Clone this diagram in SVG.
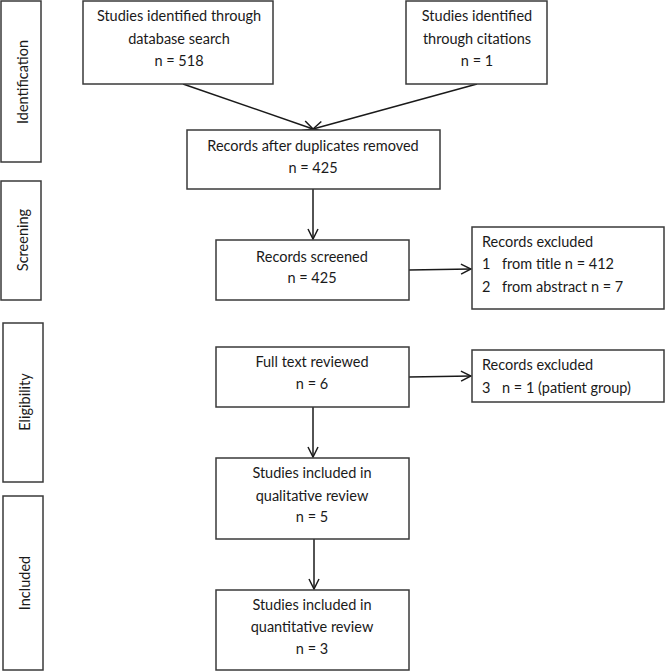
<svg xmlns="http://www.w3.org/2000/svg" width="666" height="672" viewBox="0 0 666 672">
<defs>
<style>
.box{fill:#fff;stroke:#3a3a3a;stroke-width:1.5}
.t{font-family:Lato,"Liberation Sans",sans-serif;font-size:14.5px;fill:#1a1a1a}
.c{text-anchor:middle}
.ln{stroke:#1a1a1a;stroke-width:1.5;fill:none}
</style>
<marker id="ah" viewBox="0 0 12 12" refX="11" refY="6" markerWidth="12" markerHeight="12" markerUnits="userSpaceOnUse" orient="auto">
<path d="M1,1 L11,6 L1,11" fill="none" stroke="#1a1a1a" stroke-width="1.5"/>
</marker>
</defs>
<rect width="666" height="672" fill="#fff"/>
<g id="phase-identification"><rect class="box" x="1" y="1" width="40" height="161"/><text class="t c" transform="translate(28,82) rotate(-90)">Identification</text></g>
<g id="phase-screening"><rect class="box" x="1" y="181" width="40" height="119"/><text class="t c" transform="translate(28,240) rotate(-90)">Screening</text></g>
<g id="phase-eligibility"><rect class="box" x="3" y="323" width="40" height="159"/><text class="t c" transform="translate(30,402) rotate(-90)">Eligibility</text></g>
<g id="phase-included"><rect class="box" x="3" y="496" width="40" height="174"/><text class="t c" transform="translate(30,583) rotate(-90)">Included</text></g>

<g id="connectors">
<line class="ln" x1="183" y1="84" x2="313" y2="129" marker-end="url(#ah)"/>
<line class="ln" x1="477" y1="84" x2="313" y2="129" marker-end="url(#ah)"/>
<line class="ln" x1="313" y1="189" x2="313" y2="239" marker-end="url(#ah)"/>
<line class="ln" x1="409" y1="270" x2="471" y2="269" marker-end="url(#ah)"/>
<line class="ln" x1="313" y1="407" x2="313" y2="457" marker-end="url(#ah)"/>
<line class="ln" x1="409" y1="377" x2="471" y2="376" marker-end="url(#ah)"/>
<line class="ln" x1="314" y1="539" x2="314" y2="589" marker-end="url(#ah)"/>
</g>

<g id="node-database"><rect class="box" x="83" y="1" width="190" height="83"/>
<text class="t c" x="179" y="21">Studies identified through</text>
<text class="t c" x="179" y="44">database search</text>
<text class="t c" x="179" y="66">n = 518</text></g>
<g id="node-citations"><rect class="box" x="406" y="1" width="141" height="83"/>
<text class="t c" x="477" y="21">Studies identified</text>
<text class="t c" x="477" y="44">through citations</text>
<text class="t c" x="477" y="66">n = 1</text></g>
<g id="node-duplicates"><rect class="box" x="187" y="130" width="253" height="59"/>
<text class="t c" x="313" y="151">Records after duplicates removed</text>
<text class="t c" x="313" y="173">n = 425</text></g>
<g id="node-screened"><rect class="box" x="216" y="240" width="193" height="60"/>
<text class="t c" x="312" y="262">Records screened</text>
<text class="t c" x="312" y="283">n = 425</text></g>
<g id="node-excluded1"><rect class="box" x="472" y="227" width="192" height="82"/>
<text class="t" x="482" y="247">Records excluded</text>
<text class="t" x="482" y="269">1</text><text class="t" x="502" y="269">from title n = 412</text>
<text class="t" x="482" y="292">2</text><text class="t" x="502" y="292">from abstract n = 7</text></g>
<g id="node-fulltext"><rect class="box" x="216" y="347" width="193" height="60"/>
<text class="t c" x="312" y="367">Full text reviewed</text>
<text class="t c" x="312" y="389">n = 6</text></g>
<g id="node-excluded2"><rect class="box" x="472" y="350" width="192" height="52"/>
<text class="t" x="482" y="370">Records excluded</text>
<text class="t" x="482" y="393">3</text><text class="t" x="502" y="393">n = 1 (patient group)</text></g>
<g id="node-qualitative"><rect class="box" x="216" y="458" width="193" height="81"/>
<text class="t c" x="312" y="478">Studies included in</text>
<text class="t c" x="312" y="501">qualitative review</text>
<text class="t c" x="312" y="522">n = 5</text></g>
<g id="node-quantitative"><rect class="box" x="216" y="590" width="193" height="80"/>
<text class="t c" x="312" y="610">Studies included in</text>
<text class="t c" x="312" y="632">quantitative review</text>
<text class="t c" x="312" y="654">n = 3</text></g>
</svg>
